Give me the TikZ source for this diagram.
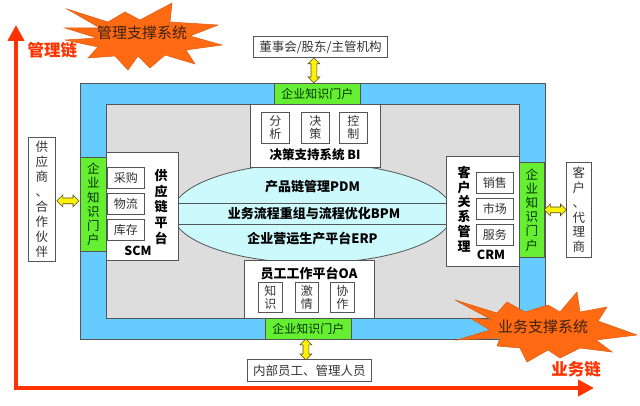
\documentclass[tikz,border=0pt]{standalone}
\usepackage{fontspec}
\setmainfont{Noto Sans CJK SC}
\usetikzlibrary{shapes.arrows,shapes.geometric,arrows.meta,calc}
\definecolor{frameblue}{HTML}{66CCFF}
\definecolor{portalgreen}{HTML}{66EE33}
\definecolor{panelgray}{HTML}{DDDDDD}
\definecolor{ellcyan}{HTML}{CCFAFC}
\definecolor{burst}{HTML}{FF6A12}
\definecolor{chainred}{HTML}{FF3300}
\definecolor{edge}{HTML}{555555}
\definecolor{txt}{HTML}{333333}
\definecolor{bursttxt}{HTML}{3A2210}
\tikzset{
  box/.style={draw=edge, fill=white, line width=0.8pt, inner sep=0, anchor=north west, text=txt},
  portal/.style={draw=edge, fill=portalgreen, line width=0.8pt, inner sep=0, anchor=north west, text=black!80!green, font=\fontsize{12}{14}\selectfont},
  sub/.style={box, font=\fontsize{12}{13}\selectfont, align=center},
  bold/.style={font=\fontsize{13}{16}\selectfont\bfseries, text=black, align=center},
  vert/.style={align=center, font=\fontsize{12.5}{15}\selectfont},
  dblarrow/.style={double arrow, draw=black!60!olive, fill=yellow, line width=0.6pt, inner sep=2.6pt, double arrow head extend=3pt, minimum height=22pt},
  redarrow/.style={draw=chainred, line width=4.5pt, -{Triangle[length=16pt,width=16pt]}},
  chain/.style={text=chainred, font=\fontsize{16.5}{18}\selectfont\bfseries},
  burstshape/.style={fill=burst, draw=burst!85!black, line width=0.5pt, line join=miter},
  bursttext/.style={text=bursttxt, font=\fontsize{15}{17}\selectfont}
}
\begin{document}
\begin{tikzpicture}[x=1pt,y=-1pt]
\useasboundingbox (0,0) rectangle (640,406);

% red chain arrows
\coordinate (corner) at (16,388);
\coordinate (uptip) at (16,25);
\coordinate (righttip) at (594,388);
\draw[redarrow] (corner) -- (uptip);
\draw[redarrow] ([xshift=-2.25pt]corner) -- (righttip);
\node[chain, anchor=west] (mchain) at (24,50) {管理链};
\node[chain] (bchain) at (576,369) {业务链};

% management starburst
\draw[burstshape] (67,9) -- (108,22) -- (125,12) -- (140,20) -- (172,3) -- (170,22) -- (218,25) -- (190,36) -- (222,45) -- (186,50) -- (195,64) -- (165,55) -- (150,68) -- (138,56) -- (128,70) -- (115,56) -- (88,58) -- (98,47) -- (65,40) -- (97,38) -- (65,28) -- (100,28) -- cycle;
\node[bursttext] (mburst) at (142,33) {管理支撑系统};

% outer frame
\node[draw=edge, fill=frameblue, line width=0.8pt, anchor=north west, minimum width=465pt, minimum height=256pt, inner sep=0] (frame) at (80,83) {};
\node[draw=edge, fill=panelgray, line width=0.8pt, anchor=north west, minimum width=413pt, minimum height=214pt, inner sep=0] (panel) at (106,104) {};

% portals
\node[portal, minimum width=86pt, minimum height=21pt] (ptop) at (274,83) {企业知识门户};
\node[portal, minimum width=86pt, minimum height=21pt] (pbot) at (265,318) {企业知识门户};
\node[portal, minimum width=26pt, minimum height=94pt, align=center, font=\fontsize{12.5}{14.2}\selectfont] (pleft) at (80,157) {企\\业\\知\\识\\门\\户};
\node[portal, minimum width=25pt, minimum height=95pt, align=center, font=\fontsize{12.5}{14.2}\selectfont] (pright) at (519,162) {企\\业\\知\\识\\门\\户};

% external parties
\node[box, minimum width=134pt, minimum height=21pt, font=\fontsize{12.5}{14}\selectfont] (board) at (253,36) {董事会/股东/主管机构};
\node[box, minimum width=124pt, minimum height=22pt, font=\fontsize{12.5}{14}\selectfont] (staff) at (247,359) {内部员工、管理人员};
\node[box, minimum width=27pt, minimum height=124pt, vert] (supplier) at (28,137) {供\\应\\商\\、\\合\\作\\伙\\伴};
\node[box, minimum width=25pt, minimum height=95pt, vert, font=\fontsize{12.5}{14.8}\selectfont] (customer) at (566,162) {客\\户\\、\\代\\理\\商};

% yellow double arrows
\node[dblarrow, rotate=90, minimum height=25pt] (a1) at ($(board.south)!0.5!(ptop.north)+(-5,0)$) {};
\node[dblarrow, minimum height=22pt] (a2) at ($(supplier.east)!0.5!(pleft.west)+(0,-1)$) {};
\node[dblarrow, minimum height=22pt] (a3) at ($(pright.east)!0.5!(customer.west)$) {};
\node[dblarrow, rotate=90, minimum height=21pt] (a4) at ($(pbot.south)!0.5!(staff.north)+(-3,0)$) {};

% central ellipse
\node[ellipse, draw=edge, fill=ellcyan, line width=0.8pt, minimum width=280pt, minimum height=100pt, inner sep=0] (core) at (312.5,213) {};
\begin{scope}
  \clip (312.5,213) ellipse [x radius=140pt, y radius=50pt];
  \draw[edge, line width=0.8pt] (core.west |- 0,203) -- (core.east |- 0,203);
  \draw[edge, line width=0.8pt] (core.west |- 0,224) -- (core.east |- 0,224);
\end{scope}
\node[bold] (pdm) at (312.5,187) {产品链管理PDM};
\node[bold] (bpm) at (314,213.5) {业务流程重组与流程优化BPM};
\node[bold] (erp) at (312.5,239) {企业营运生产平台ERP};

% BI
\node[box, minimum width=130pt, minimum height=63pt] (bi) at (250,104) {};
\node[sub, minimum width=28pt, minimum height=31pt] (bi1) at (261,112) {分\\析};
\node[sub, minimum width=28pt, minimum height=31pt] (bi2) at (301,112) {决\\策};
\node[sub, minimum width=28pt, minimum height=31pt] (bi3) at (339,112) {控\\制};
\node[bold, font=\fontsize{12.5}{14}\selectfont\bfseries] (bil) at (315,155) {决策支持系统 BI};

% OA
\node[box, minimum width=130pt, minimum height=58pt] (oa) at (244,260) {};
\node[bold] (oal) at (309,273) {员工工作平台OA};
\node[sub, minimum width=24pt, minimum height=30pt] (oa1) at (258,282) {知\\识};
\node[sub, minimum width=23pt, minimum height=30pt] (oa2) at (295,282) {激\\情};
\node[sub, minimum width=24pt, minimum height=30pt] (oa3) at (330,282) {协\\作};

% SCM
\node[box, minimum width=72pt, minimum height=108pt] (scm) at (106,152) {};
\node[sub, minimum width=37pt, minimum height=21pt] (scm1) at (107,167) {采购};
\node[sub, minimum width=37pt, minimum height=21pt] (scm2) at (107,193) {物流};
\node[sub, minimum width=37pt, minimum height=21pt] (scm3) at (107,219) {库存};
\node[bold, font=\fontsize{13}{15.8}\selectfont\bfseries] (scmv) at (161,207) {供\\应\\链\\平\\台};
\node[bold, font=\fontsize{12.5}{14}\selectfont\bfseries] (scml) at (138,251) {SCM};

% CRM
\node[box, minimum width=73pt, minimum height=110pt] (crm) at (446,156) {};
\node[bold, font=\fontsize{13}{14.8}\selectfont\bfseries] (crmv) at (464,209) {客\\户\\关\\系\\管\\理};
\node[sub, minimum width=37pt, minimum height=21pt] (crm1) at (476,172) {销售};
\node[sub, minimum width=37pt, minimum height=21pt] (crm2) at (476,198) {市场};
\node[sub, minimum width=37pt, minimum height=21pt] (crm3) at (476,224) {服务};
\node[bold, font=\fontsize{12.5}{14}\selectfont\bfseries] (crml) at (491,255) {CRM};

% business starburst
\draw[burstshape] (455,300) -- (497,313) -- (507,302) -- (525,312) -- (548,305) -- (560,312) -- (577,292) -- (580,312) -- (607,307) -- (598,321) -- (637,335) -- (596,340) -- (612,352) -- (580,348) -- (560,358) -- (548,350) -- (527,362) -- (520,348) -- (497,346) -- (500,338) -- (457,340) -- (490,330) -- (470,318) -- (492,320) -- cycle;
\node[bursttext] (bburst) at (543,327) {业务支撑系统};
\end{tikzpicture}
\end{document}
